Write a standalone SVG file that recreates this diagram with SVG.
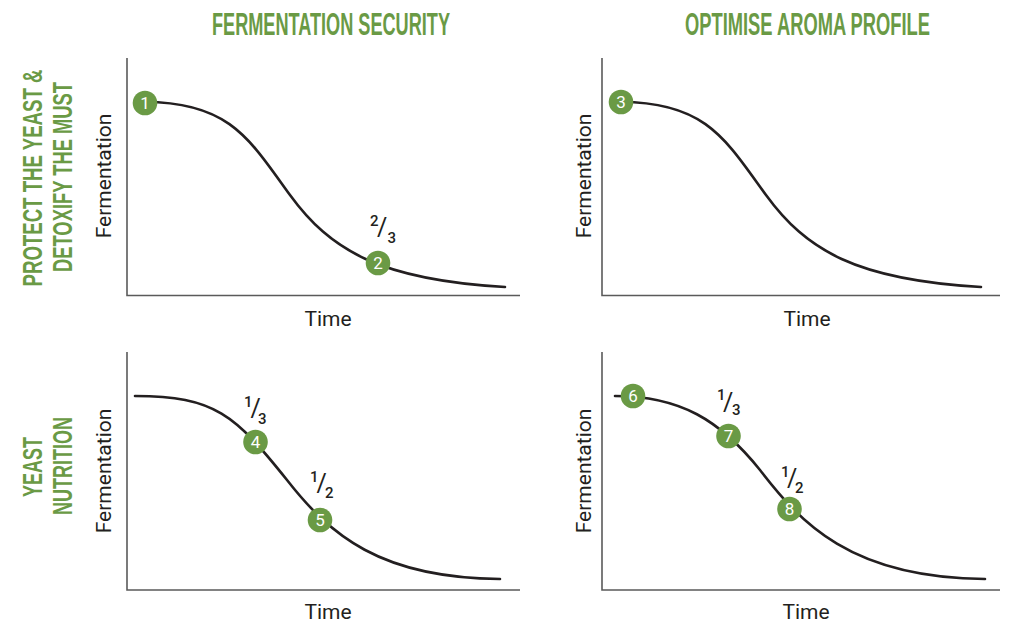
<svg xmlns="http://www.w3.org/2000/svg" width="1016" height="624" viewBox="0 0 1016 624">
  <style>
    .head { font-family: "Liberation Sans Narrow", "Liberation Sans", sans-serif; font-weight: bold; fill: #6a9a45; }
    .axis { fill: none; stroke: #5a5a5a; stroke-width: 1.6; }
    .curve { fill: none; stroke: #231f20; stroke-width: 2.6; stroke-linecap: round; }
    .lbl { font-family: Roboto, "Liberation Sans", sans-serif; font-size: 21px; fill: #231f20; }
    .dot circle { fill: #6a9a45; }
    .dot text { font-family: Roboto, "Liberation Sans", sans-serif; font-size: 17px; fill: #ffffff; text-anchor: middle; }
    .frac { font-family: Roboto, "Liberation Sans", sans-serif; fill: #231f20; }
    .num { font-size: 15px; font-weight: 500; }
    .sl { font-size: 25px; }
  </style>

  <!-- column and row headings -->
  <g id="headings">
    <text class="head" x="331" y="35" font-size="31" text-anchor="middle" textLength="238" lengthAdjust="spacingAndGlyphs">FERMENTATION SECURITY</text>
    <text class="head" x="807.5" y="35" font-size="31" text-anchor="middle" textLength="245" lengthAdjust="spacingAndGlyphs">OPTIMISE AROMA PROFILE</text>
    <text class="head" transform="translate(42,178) rotate(-90)" font-size="28" text-anchor="middle" textLength="217" lengthAdjust="spacingAndGlyphs">PROTECT THE YEAST &amp;</text>
    <text class="head" transform="translate(72,177) rotate(-90)" font-size="28" text-anchor="middle" textLength="190" lengthAdjust="spacingAndGlyphs">DETOXIFY THE MUST</text>
    <text class="head" transform="translate(42,467) rotate(-90)" font-size="28" text-anchor="middle" textLength="60" lengthAdjust="spacingAndGlyphs">YEAST</text>
    <text class="head" transform="translate(72,466) rotate(-90)" font-size="28" text-anchor="middle" textLength="98" lengthAdjust="spacingAndGlyphs">NUTRITION</text>
  </g>

  <!-- chart axes -->
  <g id="axes">
    <path class="axis" d="M127,58 V295.5 H520"/>
    <path class="axis" d="M602,58 V295.5 H1000"/>
    <path class="axis" d="M127,352 V590 H520"/>
    <path class="axis" d="M602,352 V590 H1000"/>
  </g>

  <!-- axis labels -->
  <g id="axis-labels">
    <text class="lbl" transform="translate(111,176) rotate(-90)" text-anchor="middle">Fermentation</text>
    <text class="lbl" transform="translate(591,176) rotate(-90)" text-anchor="middle">Fermentation</text>
    <text class="lbl" transform="translate(111,471) rotate(-90)" text-anchor="middle">Fermentation</text>
    <text class="lbl" transform="translate(591,471) rotate(-90)" text-anchor="middle">Fermentation</text>
    <text class="lbl" x="328" y="326" text-anchor="middle">Time</text>
    <text class="lbl" x="807" y="326" text-anchor="middle">Time</text>
    <text class="lbl" x="328" y="619" text-anchor="middle">Time</text>
    <text class="lbl" x="806" y="619" text-anchor="middle">Time</text>
  </g>

  <!-- fermentation curves -->
  <g id="connectors">
    <path class="curve" d="M145,102 C230,102 250,140 290,195 C330,250 380,280 505,287"/>
    <path class="curve" d="M621,102 C706,102 726,140 766,195 C806,250 856,280 981,287"/>
    <path class="curve" d="M135,396 C215,396 235,415 287,480 C330,535 380,578 500,579"/>
    <path class="curve" d="M615,396 C680,396 720,420 760,470 C800,522 850,578 985,579"/>
  </g>

  <!-- fractions -->
  <g id="fractions" class="frac">
    <text><tspan class="num" x="370" y="226">2</tspan><tspan class="sl" x="377" y="236">/</tspan><tspan class="num" x="387.5" y="243">3</tspan></text>
    <text><tspan class="num" x="244" y="407">1</tspan><tspan class="sl" x="250.5" y="417">/</tspan><tspan class="num" x="258" y="424">3</tspan></text>
    <text><tspan class="num" x="310" y="482">1</tspan><tspan class="sl" x="316.5" y="492">/</tspan><tspan class="num" x="325" y="498">2</tspan></text>
    <text><tspan class="num" x="717" y="400">1</tspan><tspan class="sl" x="723" y="411">/</tspan><tspan class="num" x="732" y="415">3</tspan></text>
    <text><tspan class="num" x="781" y="477">1</tspan><tspan class="sl" x="787" y="487">/</tspan><tspan class="num" x="795" y="493">2</tspan></text>
  </g>

  <!-- numbered points -->
  <g id="p1" class="dot"><circle cx="145" cy="103" r="12.3"/><text x="145" y="109">1</text></g>
  <g id="p2" class="dot"><circle cx="378" cy="263" r="12.3"/><text x="378" y="269">2</text></g>
  <g id="p3" class="dot"><circle cx="621" cy="102" r="12.3"/><text x="621" y="108">3</text></g>
  <g id="p4" class="dot"><circle cx="255.5" cy="442" r="12.3"/><text x="255.5" y="448">4</text></g>
  <g id="p5" class="dot"><circle cx="320" cy="520" r="12.3"/><text x="320" y="526">5</text></g>
  <g id="p6" class="dot"><circle cx="633" cy="396" r="12.3"/><text x="633" y="402">6</text></g>
  <g id="p7" class="dot"><circle cx="728.5" cy="436" r="12.3"/><text x="728.5" y="442">7</text></g>
  <g id="p8" class="dot"><circle cx="789.5" cy="509" r="12.3"/><text x="789.5" y="515">8</text></g>
</svg>
